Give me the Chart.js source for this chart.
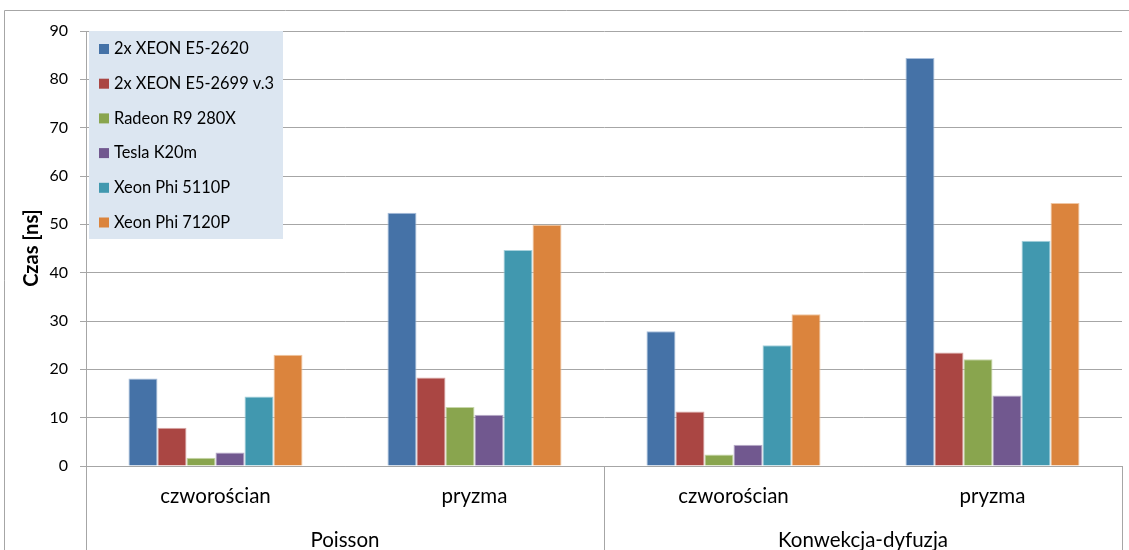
<!DOCTYPE html>
<html>
<head>
<meta charset="utf-8">
<script src="https://cdn.jsdelivr.net/npm/chart.js@4"></script>
<style>
  html, body { margin: 0; padding: 0; background: #ffffff; }
  #wrap { position: relative; width: 1129px; height: 550px; }
</style>
</head>
<body>
<div id="wrap"><canvas id="chart" width="1129" height="550"></canvas></div>
<script>
// Category rows of the two-level x axis
const categories = ['czworościan', 'pryzma', 'czworościan', 'pryzma'];
const groups = ['Poisson', 'Konwekcja-dyfuzja'];

// Series (time in ns)
const seriesNames = [
  '2x XEON E5-2620',
  '2x XEON E5-2699 v.3',
  'Radeon R9 280X',
  'Tesla K20m',
  'Xeon Phi 5110P',
  'Xeon Phi 7120P'
];
const xeon2620  = [18.1, 52.4, 27.9, 84.4];
const xeon2699  = [7.9, 18.3, 11.3, 23.5];
const radeon    = [1.7, 12.2, 2.4, 22.1];
const tesla     = [2.8, 10.6, 4.4, 14.6];
const phi5110   = [14.4, 44.7, 25.0, 46.6];
const phi7120   = [23.0, 49.9, 31.4, 54.4];

const yTicks = [0, 10, 20, 30, 40, 50, 60, 70, 80, 90];

const colors = ['#4572A7', '#AA4643', '#89A54E', '#71588F', '#4198AF', '#DB843D'];
const edges  = ['#a9bfdb', '#d9a9a7', '#c6d6a9', '#b9acc9', '#a7d1dc', '#f0c6a3'];
const seriesValues = [xeon2620, xeon2699, radeon, tesla, phi5110, phi7120];

const FONT = 'Lato, "Open Sans", sans-serif';

// Legend box, y-axis title, group labels and separators
const decorations = {
  id: 'decorations',
  beforeDraw(chart) {
    const ctx = chart.ctx;
    ctx.save();
    ctx.fillStyle = '#ffffff';
    ctx.fillRect(0, 0, chart.width, chart.height);
    // outer frame
    ctx.strokeStyle = '#a6a6a6';
    ctx.lineWidth = 1;
    ctx.beginPath();
    ctx.moveTo(4.5, chart.height);
    ctx.lineTo(4.5, 10.5);
    ctx.lineTo(chart.width, 10.5);
    ctx.stroke();
    ctx.restore();
  },
  afterDraw(chart) {
    const ctx = chart.ctx;
    const area = chart.chartArea;
    const x = chart.scales.x;
    ctx.save();

    // y axis title
    ctx.save();
    ctx.translate(32, 248);
    ctx.rotate(-Math.PI / 2);
    ctx.fillStyle = '#000000';
    ctx.font = 'bold 20px ' + FONT;
    ctx.textAlign = 'center';
    ctx.textBaseline = 'middle';
    ctx.fillText('Czas [ns]', 0, 0);
    ctx.restore();

    // separators between outer groups
    const half = (x.getPixelForValue(1) - x.getPixelForValue(0)) / 2;
    const seps = [x.getPixelForValue(0) - half, x.getPixelForValue(1) + half, x.getPixelForValue(3) + half];
    ctx.strokeStyle = '#a6a6a6';
    ctx.lineWidth = 1;
    seps.forEach(px => {
      const p = Math.round(px) + 0.5;
      ctx.beginPath();
      ctx.moveTo(p, area.bottom);
      ctx.lineTo(p, chart.height);
      ctx.stroke();
    });

    // outer group labels
    ctx.fillStyle = '#000000';
    ctx.font = '20.5px ' + FONT;
    ctx.textAlign = 'center';
    ctx.textBaseline = 'middle';
    groups.forEach((g, i) => {
      const cx = (x.getPixelForValue(2 * i) + x.getPixelForValue(2 * i + 1)) / 2;
      ctx.fillText(g, cx, 540);
    });

    // legend panel
    const lx = area.left + 3, ly = area.top, lw = 194, lh = 208;
    ctx.fillStyle = '#dce6f1';
    ctx.fillRect(lx, ly, lw, lh);
    ctx.font = '16.4px ' + FONT;
    ctx.textAlign = 'left';
    ctx.textBaseline = 'middle';
    chart.data.datasets.forEach((ds, i) => {
      const cy = ly + 18 + i * 34.7;
      ctx.fillStyle = ds.backgroundColor;
      ctx.fillRect(lx + 10, cy - 5, 10, 10);
      ctx.fillStyle = '#000000';
      ctx.fillText(ds.label, lx + 25, cy);
    });
    ctx.restore();
  }
};

new Chart(document.getElementById('chart'), {
  type: 'bar',
  data: {
    labels: categories,
    datasets: seriesNames.map((name, i) => ({
      label: name,
      data: seriesValues[i],
      backgroundColor: colors[i],
      borderColor: edges[i],
      borderWidth: { top: 1, left: 1, right: 1, bottom: 0 },
      barPercentage: 1.0,
      categoryPercentage: 0.672
    }))
  },
  options: {
    responsive: false,
    animation: false,
    devicePixelRatio: 1,
    layout: { padding: { left: 0, right: 7, top: 31, bottom: 0 } },
    plugins: {
      legend: { display: false },
      tooltip: { enabled: false }
    },
    scales: {
      x: {
        type: 'category',
        offset: true,
        grid: { display: false, drawTicks: false },
        border: { display: true, color: '#a6a6a6', width: 1 },
        ticks: {
          color: '#000000',
          font: { family: FONT, size: 20.5 },
          padding: 18
        },
        afterFit(scale) { scale.height = 84; }
      },
      y: {
        min: 0,
        max: 90,
        afterBuildTicks(scale) { scale.ticks = yTicks.map(v => ({ value: v })); },
        grid: {
          color: '#a6a6a6',
          lineWidth: 1,
          drawTicks: true,
          tickLength: 6
        },
        border: { display: true, color: '#a6a6a6', width: 1 },
        ticks: {
          color: '#000000',
          font: { family: FONT, size: 16 },
          padding: 12
        },
        afterFit(scale) { scale.width = 86; }
      }
    }
  },
  plugins: [decorations]
});
</script>
</body>
</html>
